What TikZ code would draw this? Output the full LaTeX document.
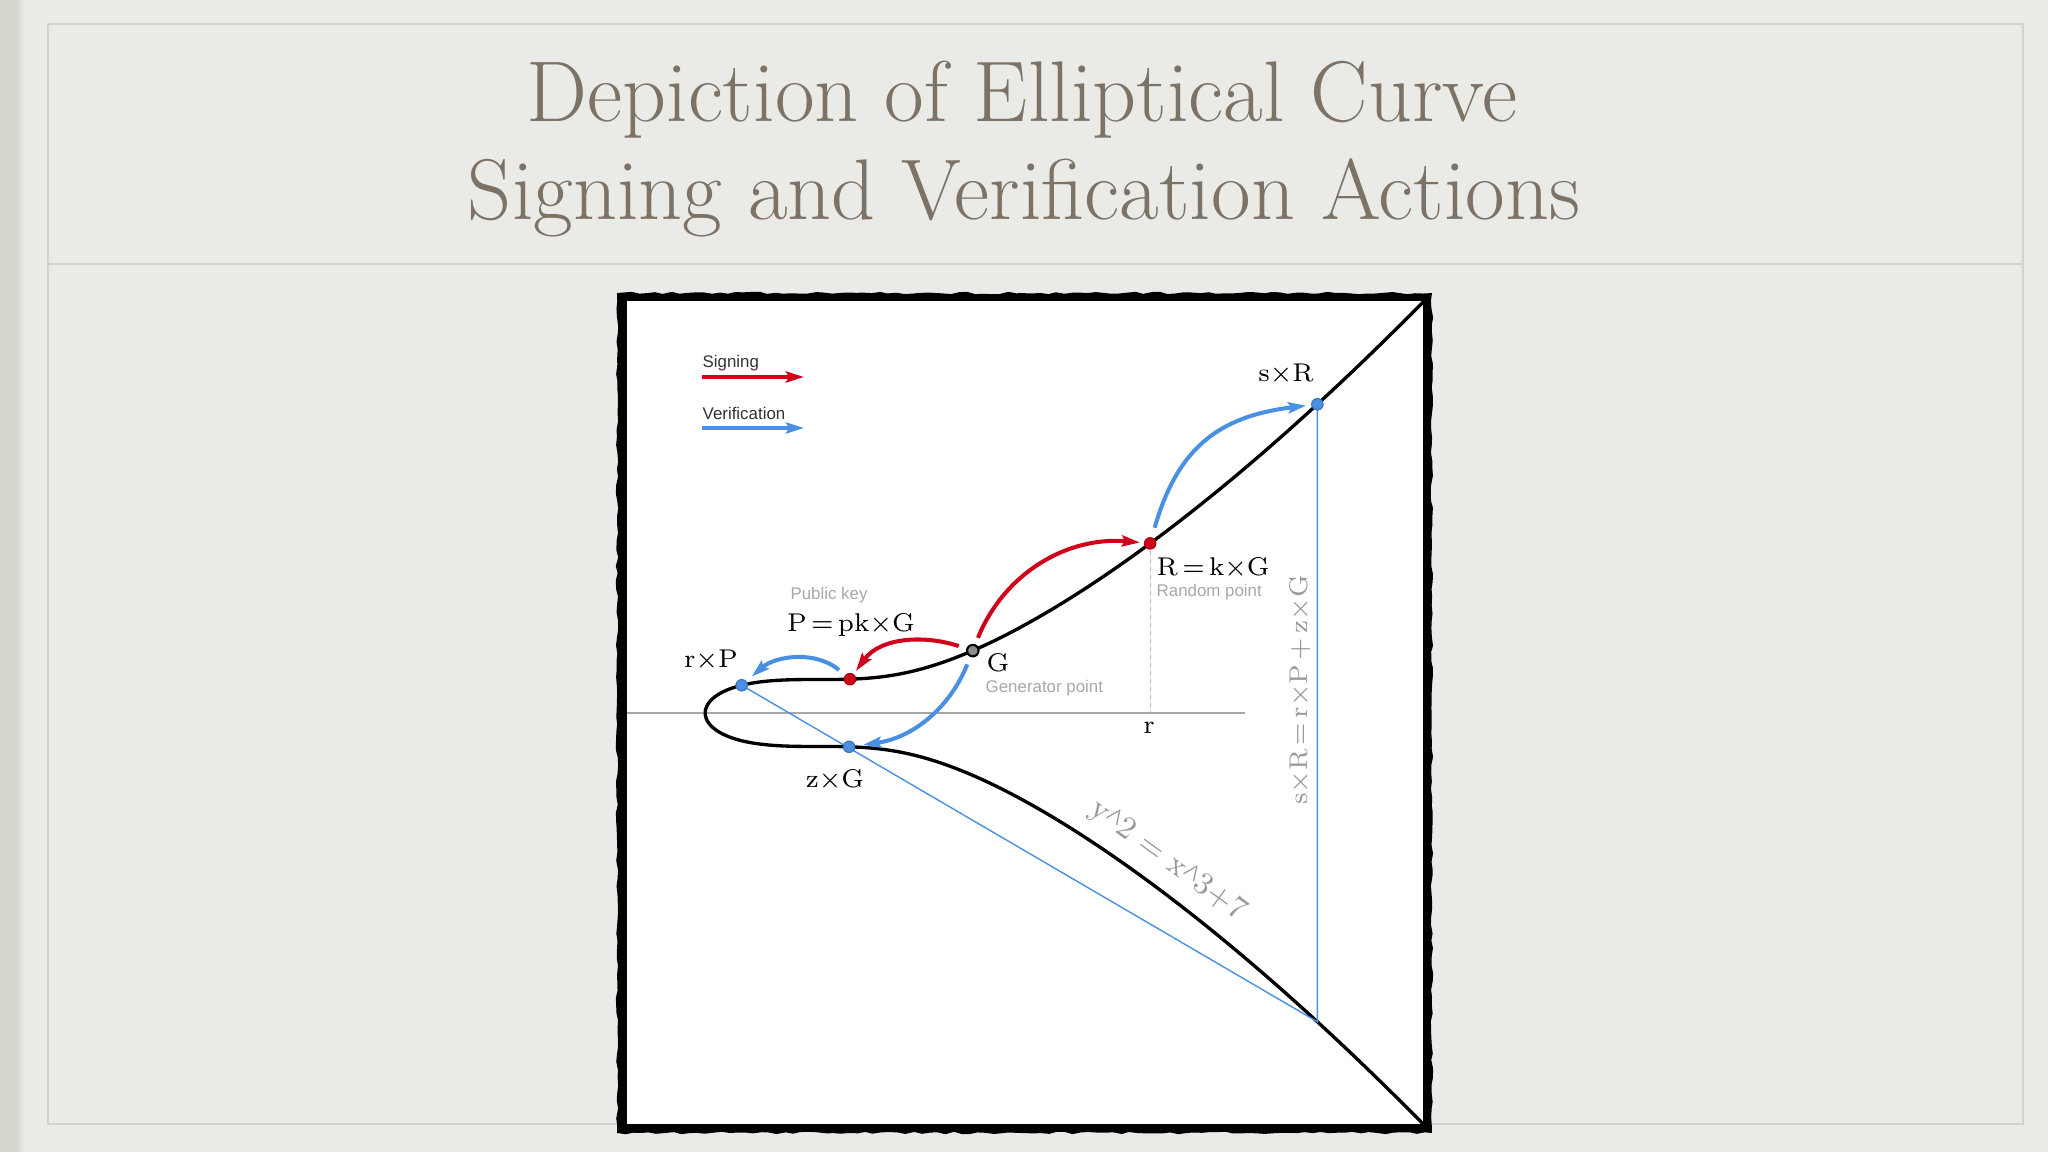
\documentclass[tikz,border=0pt]{standalone}
\usepackage{fontspec}
\newfontfamily\sanslab{Liberation Sans}
\newfontfamily\caretfont{Liberation Serif}
\usepackage{tikz}
\usetikzlibrary{arrows.meta,decorations.pathmorphing}
\definecolor{sigred}{HTML}{D0021B}
\definecolor{verblue}{HTML}{4A90E2}
\definecolor{titlegrey}{HTML}{7C7366}
\definecolor{notegrey}{HTML}{A8A8A8}
\definecolor{eqgrey}{HTML}{999999}
\definecolor{slidebg}{HTML}{EAEAE7}
\definecolor{slideline}{HTML}{D2D2CE}
\definecolor{edgestrip}{HTML}{D8D7CF}
\newcommand{\caretsym}{{\caretfont\textasciicircum}}

\begin{document}
\begin{tikzpicture}[x=0.01cm, y=-0.01cm,
	declare function={ecx(\s)=-1.91293+\s*\s; ecy(\s)=sqrt(max(ecx(\s)*ecx(\s)*ecx(\s)+7,0));},
	ecframe/.style={shift={(819,713)}, x=0.5945cm, y=0.1265cm},
	titletext/.style={inner sep=0pt, text=titlegrey, font=\fontsize{24.5}{29}\selectfont},
	lab/.style={inner sep=0pt, font=\fontsize{7.3}{8}\selectfont},
	note/.style={inner sep=0pt, text=notegrey, font=\sanslab\fontsize{4.8}{5.5}\selectfont},
	legend/.style={inner sep=0pt, text=black!80, font=\sanslab\fontsize{4.8}{5.5}\selectfont},
	dot/.style={circle, inner sep=0pt, minimum size=1.15mm, line width=0.3pt},
	reddot/.style={dot, fill=sigred, draw=sigred!80!black},
	bluedot/.style={dot, fill=verblue, draw=verblue!80!black},
	gendot/.style={dot, fill=black!45, draw=black, line width=0.6pt},
	tip/.style={-{Stealth[length=1.8mm, width=1.1mm, inset=0.3mm]}},
	signarrow/.style={tip, sigred, line width=1.15pt},
	verarrow/.style={tip, verblue, line width=1.15pt},
	thinblue/.style={verblue, line width=0.4pt},
	axisline/.style={black!35, line width=0.35pt},
	dashline/.style={black!30, line width=0.35pt, dash pattern=on 0.4mm off 0.4mm},
	curveline/.style={black, line width=0.95pt}]
	\useasboundingbox (0,0) rectangle (2048,1152);
	\fill[slidebg] (0,0) rectangle (2048,1152);
	\fill[edgestrip] (0,0) rectangle (17,1152);
	\shade[left color=edgestrip, right color=slidebg] (17,0) rectangle (24,1152);
	\draw[slideline, line width=0.4pt] (48,24) rectangle (2023,1124);
	\draw[slideline, line width=0.4pt] (48,264) -- (2023,264);

	\node[titletext, anchor=base] (title1) at (1022,122) {Depiction of Elliptical Curve};
	\node[titletext, anchor=base] (title2) at (1024,220) {Signing and Verification Actions};

	\pgfmathsetseed{7}
	\fill[black, decorate, decoration={random steps, segment length=0.8mm, amplitude=0.12mm}] (617,293) rectangle (1432,1133);
	\fill[white] (627,301) rectangle (1423,1124);

	\begin{scope}[ecframe]
		\coordinate (crP) at ({ecx(0.7829)},{ecy(0.7829)});
		\coordinate (cP) at ({ecx(1.560)},{ecy(1.560)});
		\coordinate (cG) at ({ecx(2.121)},{ecy(2.121)});
		\coordinate (cR) at ({ecx(2.735)},{ecy(2.735)});
		\coordinate (csR) at ({ecx(3.208)},{ecy(3.208)});
		\coordinate (czG) at ({ecx(1.555)},{-ecy(1.555)});
		\coordinate (cQ) at ({ecx(3.208)},{-ecy(3.208)});
	\end{scope}

	\coordinate (axL) at (627,713);
	\coordinate (axR) at (1245,713);
	\draw[axisline] (axL) -- (axR);
	\draw[dashline] (cR) -- (cR |- axL);

	\begin{scope}
		\clip (627,301) rectangle (1423,1124);
		\draw[curveline, ecframe] plot[domain=3.5:0, samples=120, variable=\u] ({ecx(\u)},{ecy(\u)})
			-- plot[domain=0:3.5, samples=120, variable=\u] ({ecx(\u)},{-ecy(\u)});
	\end{scope}

	\draw[thinblue] (crP) -- (cQ) -- (csR);

	\node[bluedot] (rP) at (crP) {};
	\node[reddot] (P) at (cP) {};
	\node[gendot] (G) at (cG) {};
	\node[reddot] (R) at (cR) {};
	\node[bluedot] (sR) at (csR) {};
	\node[bluedot] (zG) at (czG) {};

	\draw[signarrow, shorten <=0.7mm, shorten >=0.4mm] (G) to[out=68, in=175] (R);
	\draw[signarrow, shorten <=0.8mm, shorten >=0.4mm] (G) to[out=162, in=54] (P);
	\draw[verarrow, shorten <=0.8mm, shorten >=0.7mm] (P) to[out=140, in=41] (rP);
	\draw[verarrow, shorten <=0.8mm, shorten >=0.8mm] (G) to[out=248, in=8] (zG);
	\draw[verarrow, shorten <=1mm, shorten >=0.5mm, looseness=1.15] (R) to[out=74, in=187] (sR);

	\node[legend, anchor=west] (signlab) at (702,363) {Signing};
	\coordinate (sgA) at (702,377);
	\coordinate (sgB) at (804,377);
	\draw[signarrow] (sgA) -- (sgB);
	\node[legend, anchor=west] (verlab) at (702,413) {Verification};
	\coordinate (vfA) at (702,428);
	\coordinate (vfB) at (804,428);
	\draw[verarrow] (vfA) -- (vfB);

	\node[lab, anchor=base] (sRlab) at (1286,382) {s×R};
	\node[lab, anchor=base west] (Rlab) at (1156,576) {R\,=\,k×G};
	\node[note, anchor=west] (Rnote) at (1156,592) {Random point};
	\node[note] (Pnote) at (829,595) {Public key};
	\node[lab, anchor=base] (Plab) at (851,632) {P\,=\,pk×G};
	\node[lab, anchor=base] (rPlab) at (711,667) {r×P};
	\node[lab, anchor=base west] (Glab) at (986,672) {G};
	\node[note, anchor=west] (Gnote) at (985,688) {Generator point};
	\node[lab, anchor=base] (rlab) at (1149,733) {r};
	\node[lab, anchor=base] (zGlab) at (835,787) {z×G};
	\node[lab, text=eqgrey, rotate=90] (sumlab) at (1300,690) {s×R\,=\,r×P\,+\,z×G};
	\node[inner sep=0pt, text=eqgrey, font=\fontsize{9}{10}\selectfont, rotate=-36] (eqlab) at (1168,861) {y\caretsym 2 = x\caretsym 3+7};
\end{tikzpicture}
\end{document}
